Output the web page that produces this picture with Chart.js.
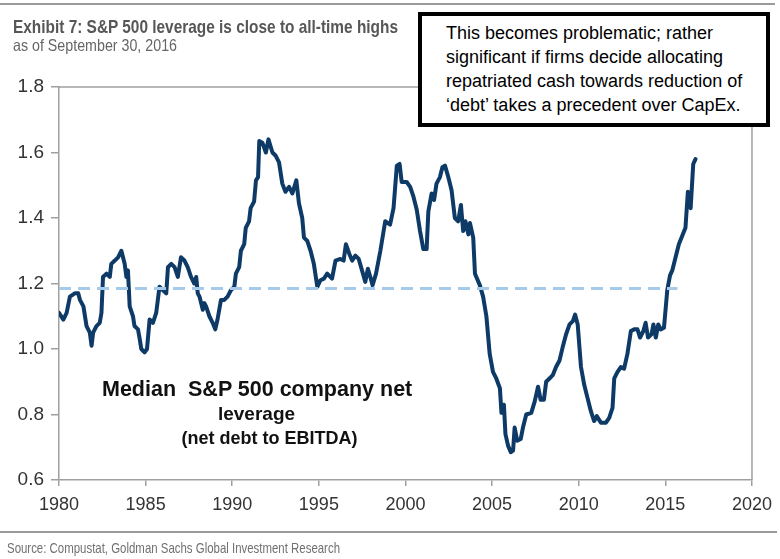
<!DOCTYPE html>
<html>
<head>
<meta charset="utf-8">
<script src="https://cdn.jsdelivr.net/npm/chart.js@4.4.1/dist/chart.umd.min.js"></script>
<style>
  html, body { margin: 0; padding: 0; background: #fff; }
  #wrap { position: relative; width: 780px; height: 559px; overflow: hidden; }
  #c { position: absolute; left: 0; top: 0; }
  .rule { position: absolute; left: 0; height: 2px; background: #9a9a9a; }
  .narrow { font-family: "Liberation Sans", Arial, sans-serif; transform-origin: 0 0; }
  #title { position: absolute; left: 13px; top: 17px; font-size: 19px; line-height: 1; font-weight: bold; color: #575757; white-space: nowrap; }
  #subtitle { position: absolute; left: 13px; top: 37px; font-size: 16.5px; line-height: 1; color: #666; white-space: nowrap; }
  #note { position: absolute; left: 418px; top: 12px; width: 352px; height: 115px; box-sizing: border-box;
          border: 4px solid #000; background: #fff; padding: 5px 0 0 24px;
          font-family: "Liberation Sans", Arial, Helvetica, sans-serif; font-size: 18px; line-height: 24px; color: #000; white-space: nowrap; }
  .lbl { position: absolute; font-family: "Liberation Sans", Arial, sans-serif; font-weight: bold; color: #111; line-height: 1; white-space: nowrap; }
  #source { position: absolute; left: 7px; top: 541px; font-size: 14.8px; line-height: 1; color: #707070; white-space: nowrap; }
</style>
</head>
<body>
<div id="wrap">
  <canvas id="c" width="780" height="559"></canvas>
  <div class="rule" style="top:3px; width:775px;"></div>
  <div id="title" class="narrow" data-w="385">Exhibit 7: S&amp;P 500 leverage is close to all-time highs</div>
  <div id="subtitle" class="narrow" data-w="164">as of September 30, 2016</div>
  <div id="note">This becomes problematic; rather<br>significant if firms decide allocating<br>repatriated cash towards reduction of<br>‘debt’ takes a precedent over CapEx.</div>
  <div class="lbl" style="left:102px; top:379px; font-size:21.5px;">Median&nbsp; S&amp;P 500 company net</div>
  <div class="lbl" style="left:256.5px; top:404px; font-size:19px; transform:translateX(-50%);">leverage</div>
  <div class="lbl" style="left:269.5px; top:429px; font-size:18px; transform:translateX(-50%);">(net debt to EBITDA)</div>
  <div class="rule" style="top:531px; width:777px;"></div>
  <div id="source" class="narrow" data-w="333">Source: Compustat, Goldman Sachs Global Investment Research</div>
</div>
<script>
// ---- data ----
const dates = [
  1980.00,1980.25,1980.44,1980.63,1980.91,1981.11,1981.21,1981.41,1981.59,1981.78,1981.88,1981.97,
  1982.16,1982.35,1982.45,1982.54,1982.74,1982.93,1983.02,1983.22,1983.41,1983.60,1983.79,1983.89,1983.98,
  1984.08,1984.27,1984.36,1984.56,1984.66,1984.75,1984.94,1985.08,1985.23,1985.42,1985.61,1985.80,1985.99,
  1986.19,1986.29,1986.48,1986.67,1986.86,1987.04,1987.24,1987.43,1987.62,1987.81,1987.92,1988.01,
  1988.11,1988.30,1988.39,1988.49,1988.68,1988.87,1989.02,1989.15,1989.35,1989.54,1989.73,1989.93,
  1990.12,1990.21,1990.40,1990.50,1990.69,1990.78,1990.97,1991.06,1991.26,1991.37,1991.49,1991.56,
  1991.74,1991.94,1992.09,1992.32,1992.51,1992.70,1992.89,1993.07,1993.28,1993.47,1993.70,1993.85,
  1994.04,1994.14,1994.33,1994.52,1994.71,1994.91,1995.09,1995.29,1995.48,1995.76,1995.96,1996.24,
  1996.43,1996.56,1996.76,1996.92,1997.11,1997.30,1997.49,1997.68,1997.83,1997.97,1998.10,1998.30,
  1998.55,1998.83,1999.11,1999.31,1999.50,1999.66,1999.78,2000.07,2000.27,2000.46,2000.65,2000.84,
  2001.03,2001.22,2001.32,2001.51,2001.65,2001.79,2001.99,2002.13,2002.28,2002.47,2002.66,2002.85,
  2003.04,2003.20,2003.33,2003.46,2003.63,2003.72,2003.91,2004.01,2004.29,2004.48,2004.67,2004.86,
  2005.05,2005.24,2005.45,2005.54,2005.68,2005.77,2005.92,2006.08,2006.21,2006.30,2006.45,2006.65,
  2006.78,2006.97,2007.26,2007.46,2007.65,2007.80,2007.99,2008.12,2008.31,2008.50,2008.69,2008.89,
  2009.07,2009.27,2009.47,2009.66,2009.79,2009.94,2010.13,2010.32,2010.51,2010.70,2010.89,2011.04,
  2011.28,2011.57,2011.76,2011.95,2012.05,2012.24,2012.43,2012.62,2012.81,2013.01,2013.20,2013.39,
  2013.54,2013.73,2013.86,2014.00,2014.20,2014.31,2014.45,2014.59,2014.73,2014.92,2015.02,2015.11,
  2015.27,2015.40,2015.59,2015.78,2015.97,2016.16,2016.30,2016.46,2016.61,2016.74
];
const leverage = [
  1.11,1.09,1.11,1.16,1.17,1.17,1.15,1.13,1.07,1.05,1.01,1.05,
  1.07,1.08,1.11,1.22,1.23,1.22,1.26,1.27,1.28,1.30,1.26,1.22,1.24,
  1.13,1.10,1.07,1.06,1.03,1.00,0.99,1.00,1.09,1.08,1.11,1.19,1.18,
  1.17,1.25,1.26,1.25,1.22,1.28,1.27,1.25,1.22,1.20,1.22,1.17,
  1.16,1.12,1.14,1.13,1.10,1.08,1.06,1.09,1.15,1.15,1.16,1.18,
  1.19,1.23,1.25,1.30,1.32,1.37,1.39,1.43,1.45,1.515,1.525,1.635,
  1.63,1.60,1.64,1.60,1.59,1.57,1.505,1.48,1.495,1.475,1.515,1.445,
  1.40,1.34,1.33,1.30,1.26,1.19,1.21,1.215,1.23,1.215,1.27,1.275,
  1.27,1.32,1.29,1.27,1.285,1.275,1.24,1.205,1.245,1.22,1.195,1.23,
  1.30,1.39,1.38,1.43,1.56,1.565,1.51,1.51,1.495,1.465,1.425,1.36,
  1.305,1.305,1.42,1.475,1.455,1.505,1.525,1.555,1.56,1.525,1.485,1.40,
  1.39,1.44,1.36,1.39,1.35,1.385,1.34,1.23,1.195,1.16,1.10,0.985,
  0.93,0.91,0.88,0.805,0.83,0.74,0.705,0.685,0.69,0.76,0.72,0.725,
  0.76,0.80,0.805,0.84,0.885,0.845,0.845,0.90,0.91,0.92,0.945,0.965,
  1.005,1.045,1.075,1.085,1.105,1.075,0.945,0.89,0.85,0.81,0.78,0.795,
  0.775,0.775,0.79,0.82,0.91,0.93,0.945,0.94,0.985,1.055,1.06,1.06,
  1.035,1.055,1.08,1.035,1.045,1.075,1.035,1.075,1.06,1.065,1.125,1.18,
  1.225,1.24,1.28,1.32,1.345,1.37,1.48,1.43,1.565,1.58
];
const avgLevel = 1.185;            // long-run average (dashed line)
const avgSpan = [1980, 2015.7];    // years covered by the dashed line
const xTicks = [1980, 1985, 1990, 1995, 2000, 2005, 2010, 2015, 2020];
const yTicks = [0.6, 0.8, 1.0, 1.2, 1.4, 1.6, 1.8];

// condensed-looking header/source text: squeeze real text to the reference width
document.querySelectorAll('[data-w]').forEach(el => {
  const w = el.getBoundingClientRect().width;
  el.style.transform = 'scaleX(' + (parseFloat(el.dataset.w) / w) + ')';
});

// ---- chart ----
const seriesPoints = dates.map((d, i) => ({ x: d, y: leverage[i] }));
const avgPoints = avgSpan.map(d => ({ x: d, y: avgLevel }));

const frame = {
  id: 'frame',
  afterDraw(chart) {
    const a = chart.chartArea, ctx = chart.ctx;
    ctx.save();
    ctx.strokeStyle = '#a0a0a0';
    ctx.lineWidth = 1.5;
    ctx.beginPath();
    ctx.moveTo(a.left, a.top);
    ctx.lineTo(a.right, a.top);
    ctx.lineTo(a.right, a.bottom);
    ctx.stroke();
    ctx.restore();
  }
};

new Chart(document.getElementById('c'), {
  type: 'line',
  data: {
    datasets: [
      { label: 'Average', data: avgPoints, borderColor: '#a6cae9', borderWidth: 3,
        borderDash: [12, 7], pointRadius: 0, fill: false, order: 0 },
      { label: 'Median S&P 500 net leverage', data: seriesPoints, borderColor: '#0d3a66',
        borderWidth: 4, pointRadius: 0, tension: 0, fill: false,
        borderJoinStyle: 'round', borderCapStyle: 'round', order: 1 }
    ]
  },
  options: {
    responsive: false,
    animation: false,
    devicePixelRatio: 1,
    layout: { padding: { left: 0, top: 87, right: 25, bottom: 39 } },
    plugins: { legend: { display: false }, tooltip: { enabled: false }, title: { display: false } },
    scales: {
      x: {
        type: 'linear', min: 1980, max: 2020,
        afterBuildTicks: s => { s.ticks = xTicks.map(v => ({ value: v })); },
        afterFit: s => { s.height = 40; },
        grid: { drawOnChartArea: false, drawTicks: true, tickLength: 6, color: '#a0a0a0', lineWidth: 1.5 },
        border: { color: '#a0a0a0', width: 1.5 },
        ticks: { padding: 8, color: '#333', maxRotation: 0, autoSkip: false,
                 font: { family: '"Liberation Sans", Arial, sans-serif', size: 18 },
                 callback: v => String(v) }
      },
      y: {
        min: 0.6, max: 1.8,
        afterBuildTicks: s => { s.ticks = yTicks.map(v => ({ value: v })); },
        afterFit: s => { s.width = 59; },
        grid: { drawOnChartArea: false, drawTicks: true, tickLength: 8, color: '#a0a0a0', lineWidth: 1.5 },
        border: { color: '#a0a0a0', width: 1.5 },
        ticks: { padding: 7, color: '#333', autoSkip: false,
                 font: { family: '"Liberation Sans", Arial, sans-serif', size: 19 },
                 callback: v => Number(v).toFixed(1) }
      }
    }
  },
  plugins: [frame]
});
</script>
</body>
</html>
